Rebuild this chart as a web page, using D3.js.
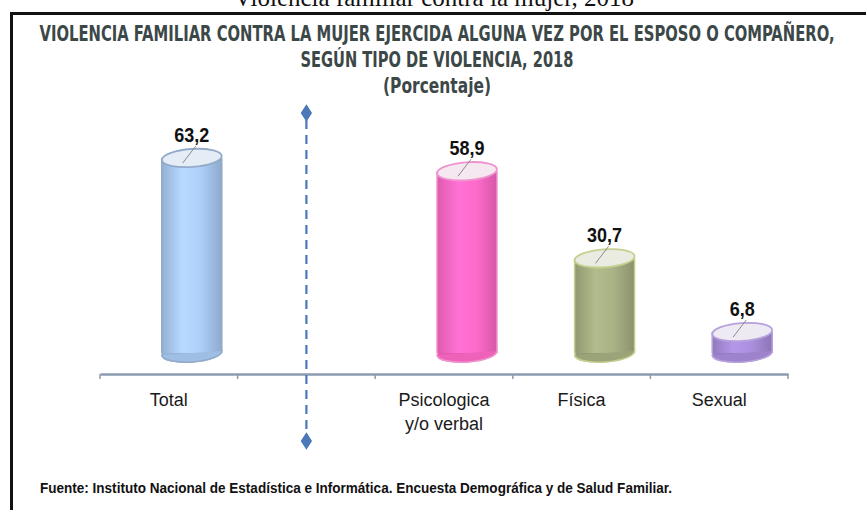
<!DOCTYPE html>
<meta charset="utf-8">
<style>
  body { margin: 0; background: #fff; }
  svg { display: block; }
  .cat { font: 18px "Liberation Sans", Arial, sans-serif; fill: #1a1a1a; text-anchor: middle; }
  .val { font: bold 20px "Liberation Sans Narrow", "Liberation Sans", Arial, sans-serif; fill: #111; text-anchor: middle; }
  .ttl { font-family: "Liberation Sans Narrow", "DejaVu Sans Condensed", "Liberation Sans", sans-serif; font-weight: bold; fill: #3c4747; text-anchor: middle; }
</style>
<body>
<script src="https://d3js.org/d3.v7.min.js"></script>
<script>

// data
var categories = ["Total", "", "Psicologica|y/o verbal", "Física", "Sexual"];
var values = [63.2, null, 58.9, 30.7, 6.8];
var bodyColors = ["#a7c8f0", null, "#fb67c4", "#a3ac80", "#a58ad6"];
var lineColors = ["#93abc8", null, "#ef93cf", "#c3d08f", "#b7a0dc"];
var topColors = ["#e4ecf6", null, "#f6e8f1", "#eaece2", "#eeeaf3"];

var W = 867, H = 510;

var svg = d3.select("body").append("svg")
  .attr("width", W)
  .attr("height", H);

var defs = svg.append("defs");

// cut-off heading from the page above
svg.append("text")
  .attr("x", 434)
  .attr("y", 6)
  .attr("text-anchor", "middle")
  .style("font", "25px 'Liberation Serif', 'DejaVu Serif', serif")
  .style("fill", "#111")
  .text("Violencia familiar contra la mujer, 2018");

// black frame (top + left)
svg.append("path")
  .attr("d", "M11.5,510 L11.5,13.5 L866,13.5")
  .attr("fill", "none")
  .attr("stroke", "#111")
  .attr("stroke-width", 3);

// titles
var titles = [
  { t: "VIOLENCIA FAMILIAR CONTRA LA MUJER EJERCIDA ALGUNA VEZ POR EL ESPOSO O COMPAÑERO,", y: 41, w: 795, s: 22 },
  { t: "SEGÚN TIPO DE VIOLENCIA, 2018", y: 67, w: 273, s: 22 },
  { t: "(Porcentaje)", y: 93, w: 108, s: 21 }
];
svg.selectAll(".ttl")
  .data(titles)
  .enter().append("text")
    .attr("class", "ttl")
    .attr("x", 437)
    .attr("y", function(d) { return d.y; })
    .attr("textLength", function(d) { return d.w; })
    .attr("lengthAdjust", "spacingAndGlyphs")
    .style("font-size", function(d) { return d.s + "px"; })
    .text(function(d) { return d.t; });

// scales
var x = d3.scaleBand()
  .domain(d3.range(categories.length))
  .range([100, 788]);

var y = d3.scaleLinear()
  .domain([0, 70])
  .range([353, 137]);

var axisY = 374;

// axis line
svg.append("g")
  .attr("transform", "translate(0," + axisY + ")")
  .call(d3.axisBottom(x).tickSize(0).tickFormat(""))
  .call(function(g) {
    g.select(".domain").attr("stroke", "#8d9bb0").attr("stroke-width", 2.5);
  });

// boundary ticks
var edges = d3.range(categories.length + 1).map(function(i) { return 100 + i * x.step(); });
svg.selectAll(".edge")
  .data(edges)
  .enter().append("line")
    .attr("x1", function(d) { return d; })
    .attr("x2", function(d) { return d; })
    .attr("y1", axisY)
    .attr("y2", axisY + 5)
    .attr("stroke", "#8d9bb0")
    .attr("stroke-width", 1.5);

// category labels
categories.forEach(function(c, i) {
  if (!c) return;
  var t = svg.append("text")
    .attr("class", "cat")
    .attr("x", x(i) + x.bandwidth() / 2)
    .attr("y", 406);
  c.split("|").forEach(function(line, k) {
    t.append("tspan")
      .attr("x", x(i) + x.bandwidth() / 2)
      .attr("dy", k ? 24 : 0)
      .text(line);
  });
});

// dashed separator in the empty slot
var sepX = x(1) + x.bandwidth() / 2;
svg.append("line")
  .attr("x1", sepX).attr("x2", sepX)
  .attr("y1", 120).attr("y2", 434)
  .attr("stroke", "#4a78b8")
  .attr("stroke-width", 2.2)
  .attr("stroke-dasharray", "9,6");
[113, 441].forEach(function(cy) {
  svg.append("path")
    .attr("d", d3.symbol().type(d3.symbolDiamond).size(110)())
    .attr("transform", "translate(" + sepX + "," + cy + ") scale(1,0.9)")
    .attr("fill", "#4a78b8");
});

// cylinders
var fmt = d3.formatLocale({ decimal: ",", thousands: ".", grouping: [3], currency: ["", ""] }).format(".1f");
var rx = 30, ry = 9, shift = 23;

values.forEach(function(v, i) {
  if (v == null) return;
  var cx = x(i) + x.bandwidth() / 2 + shift;
  var yb = y(0), yt = y(v);

  var grad = defs.append("linearGradient")
    .attr("id", "g" + i)
    .attr("x1", 0).attr("x2", 1).attr("y1", 0).attr("y2", 0);
  var base = d3.color(bodyColors[i]);
  grad.append("stop").attr("offset", "0%").attr("stop-color", base.darker(0.35));
  grad.append("stop").attr("offset", "35%").attr("stop-color", base.brighter(0.25));
  grad.append("stop").attr("offset", "65%").attr("stop-color", base.brighter(0.1));
  grad.append("stop").attr("offset", "100%").attr("stop-color", base.darker(0.45));

  var g = svg.append("g");

  // bottom ellipse
  g.append("ellipse")
    .attr("cx", cx).attr("cy", yb)
    .attr("rx", rx).attr("ry", ry)
    .attr("transform", "rotate(-4," + cx + "," + yb + ")")
    .attr("fill", base.darker(0.3))
    .attr("stroke", lineColors[i])
    .attr("stroke-width", 1.5);

  // body
  g.append("rect")
    .attr("x", cx - rx).attr("y", yt)
    .attr("width", rx * 2).attr("height", yb - yt)
    .attr("fill", "url(#g" + i + ")");
  g.append("line")
    .attr("x1", cx - rx).attr("x2", cx - rx)
    .attr("y1", yt).attr("y2", yb)
    .attr("stroke", lineColors[i]).attr("stroke-width", 1.5);
  g.append("line")
    .attr("x1", cx + rx).attr("x2", cx + rx)
    .attr("y1", yt).attr("y2", yb)
    .attr("stroke", lineColors[i]).attr("stroke-width", 1.5);

  // front half of bottom rim
  g.append("path")
    .attr("d", "M" + (cx - rx) + "," + yb + " A" + rx + "," + ry + " 0 0 0 " + (cx + rx) + "," + yb)
    .attr("transform", "rotate(-4," + cx + "," + yb + ")")
    .attr("fill", base.darker(0.15))
    .attr("stroke", lineColors[i])
    .attr("stroke-width", 1.5);

  // top ellipse
  g.append("ellipse")
    .attr("cx", cx).attr("cy", yt)
    .attr("rx", rx).attr("ry", ry)
    .attr("transform", "rotate(-4," + cx + "," + yt + ")")
    .attr("fill", topColors[i])
    .attr("stroke", lineColors[i])
    .attr("stroke-width", 1.8);

  // leader line from label
  g.append("line")
    .attr("x1", cx + 4).attr("y1", yt - ry - 3)
    .attr("x2", cx - 9).attr("y2", yt + 5)
    .attr("stroke", "#8a8a8a")
    .attr("stroke-width", 1);

  // value label, narrow like the original
  var s = fmt(v);
  svg.append("text")
    .attr("class", "val")
    .attr("x", cx)
    .attr("y", yt - ry - 7)
    .attr("textLength", (s.length - 1) * 10 + 5)
    .attr("lengthAdjust", "spacingAndGlyphs")
    .text(s);
});

// source
svg.append("text")
  .attr("x", 40)
  .attr("y", 493)
  .attr("textLength", 632)
  .attr("lengthAdjust", "spacingAndGlyphs")
  .style("font", "bold 15px 'Liberation Sans Narrow', 'Liberation Sans', sans-serif")
  .style("fill", "#111")
  .text("Fuente: Instituto Nacional de Estadística e Informática. Encuesta Demográfica y de Salud Familiar.");

</script>
</body>
